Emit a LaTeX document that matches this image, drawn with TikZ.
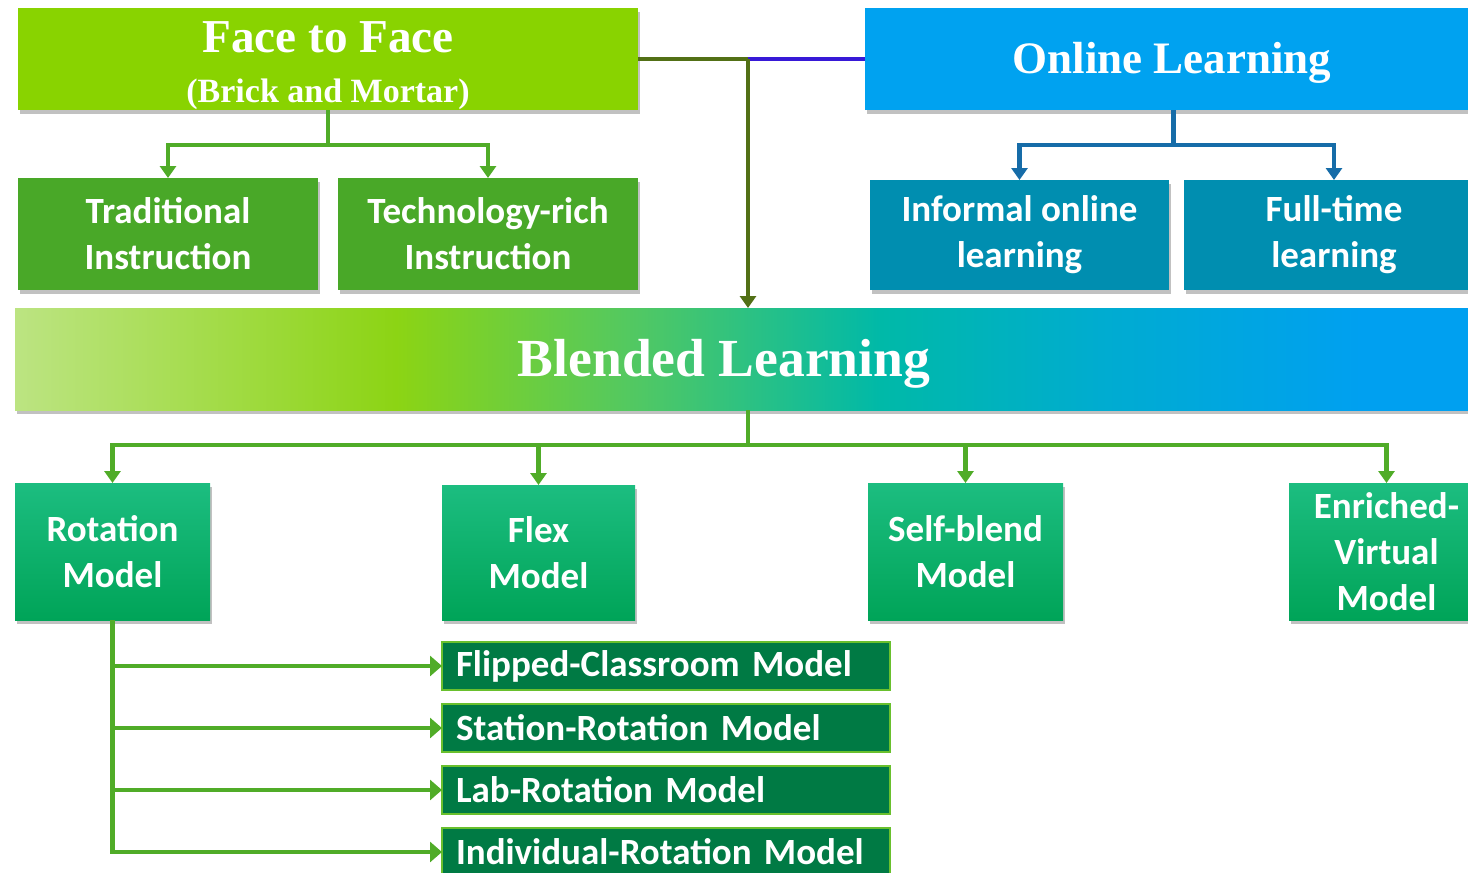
\documentclass[tikz,border=0pt]{standalone}
\usepackage{fontspec}
\setmainfont{Carlito}
\newfontfamily\ttlfont{Liberation Serif}
\usetikzlibrary{arrows.meta,shadows}
\definecolor{facegreen}{RGB}{137,211,0}
\definecolor{onlineblue}{RGB}{0,162,240}
\definecolor{ffsub}{RGB}{73,168,40}
\definecolor{onsub}{RGB}{0,142,176}
\definecolor{conngreen}{RGB}{80,172,40}
\definecolor{connolive}{RGB}{82,112,22}
\definecolor{connpurple}{RGB}{55,25,215}
\definecolor{connblue}{RGB}{22,108,168}
\definecolor{modtop}{RGB}{28,189,128}
\definecolor{modbot}{RGB}{0,164,88}
\definecolor{subfill}{RGB}{0,122,68}
\definecolor{subedge}{RGB}{105,192,45}
\definecolor{blA}{RGB}{188,228,130}
\definecolor{blB}{RGB}{140,212,20}
\definecolor{blC}{RGB}{80,200,100}
\definecolor{blD}{RGB}{0,185,168}
\definecolor{blE}{RGB}{0,172,208}
\definecolor{blF}{RGB}{0,160,240}
\pgfdeclarehorizontalshading{blendsh}{100bp}{color(0bp)=(blA); color(25bp)=(blA); color(38bp)=(blB); color(46.3bp)=(blC); color(54.5bp)=(blD); color(62bp)=(blE); color(70.9bp)=(blF); color(75bp)=(blF); color(100bp)=(blF)}
\newcommand\bodyfnt{\bfseries\fontsize{18.5}{23}\selectfont}
\newcommand\subfnt{\bfseries\fontsize{18.5}{21}\selectfont}
\newcommand\titlefnt{\ttlfont\bfseries\fontsize{22.5}{27}\selectfont}
\newcommand\pbox[6]{\node[#6, minimum width={(#4-#2)*0.5pt}, minimum height={(#5-#3)*0.5pt}] (#1) at ({(#2+#4)/2},{(#3+#5)/2})}
\tikzset{
  shad/.style={drop shadow={shadow xshift=0.8pt,shadow yshift=-1.8pt,opacity=0.35,fill=black!70}},
  bx/.style={inner sep=0pt, outer sep=0pt, text=white, align=center, shad},
  twoline/.style={bx, font=\bodyfnt},
  model/.style={twoline, top color=modtop, bottom color=modbot},
  subbox/.style={fill=subfill, draw=subedge, line width=1.2pt, text=white, font=\subfnt,
    text width=210pt, inner xsep=7pt, inner ysep=0pt, minimum height=24pt, align=left, anchor=west, outer sep=0pt},
  gconn/.style={draw=conngreen, line width=2.3pt},
  bconn/.style={draw=connblue, line width=2.3pt},
  oconn/.style={draw=connolive, line width=1.6pt},
  pconn/.style={draw=connpurple, line width=1.8pt},
  arr/.style={-{Triangle[length=6pt,width=8pt]}},
  arrbig/.style={-{Triangle[length=6pt,width=10pt]}},
  lbl/.style={text=white, inner sep=0pt}
}
\begin{document}
\begin{tikzpicture}[x=0.5pt,y=-0.5pt]
\useasboundingbox (0,0) rectangle (1468,873);
% top boxes
\pbox{face}{18}{8}{638}{110}{bx,fill=facegreen}{};
\node[lbl, font=\ttlfont\bfseries\fontsize{23.6}{28}\selectfont] (facet) at (328,37) {Face to Face};
\node[lbl, font=\ttlfont\bfseries\fontsize{17}{20}\selectfont] (facesub) at (328,94) {(Brick and Mortar)};
\pbox{online}{865}{8}{1482}{110}{bx,fill=onlineblue}{};
\node[lbl, font=\titlefnt] (onlinet) at (1172,63) {Online Learning};
\pbox{trad}{18}{178}{318}{290}{twoline,fill=ffsub}{Traditional\\Instruction};
\pbox{tech}{338}{178}{638}{290}{twoline,fill=ffsub}{Technology-rich\\Instruction};
\pbox{info}{870}{180}{1169}{290}{twoline,fill=onsub}{Informal online\\learning};
\pbox{full}{1184}{180}{1484}{290}{twoline,fill=onsub}{Full-time\\learning};
% blended bar
\pbox{blend}{15}{308}{1482}{410}{bx,shading=blendsh}{};
\node[lbl, font=\ttlfont\bfseries\fontsize{26.8}{32}\selectfont] (blendt) at (724,364) {Blended Learning};
% models
\pbox{rot}{15}{483}{210}{620}{model}{Rotation\\Model};
\pbox{flex}{442}{485}{635}{620}{model}{Flex\\Model};
\pbox{self}{868}{483}{1063}{620}{model}{Self-blend\\Model};
\pbox{enr}{1289}{483}{1484}{620}{model}{Enriched-\\Virtual\\Model};
% rotation sub-models
\node[subbox] (s1) at (442,666) {Flipped-Classroom Model};
\node[subbox] (s2) at (442,728) {Station-Rotation Model};
\node[subbox] (s3) at (442,790) {Lab-Rotation Model};
\node[subbox] (s4) at (442,852) {Individual-Rotation Model};
% connectors: face to face
\coordinate (fj) at (328,145);
\draw[gconn] (face.south) -- (fj);
\draw[gconn,arr] (fj) -| (trad.north);
\draw[gconn,arr] (fj) -| (tech.north);
% online
\coordinate (oj) at (1173.5,145);
\draw[bconn] (online.south) -- (oj);
\draw[bconn,arr] (oj) -| (info.north);
\draw[bconn,arr] (oj) -| (full.north);
% merge into blended
\coordinate (jn) at (748,59);
\draw[oconn] (face.east) -- (jn);
\draw[pconn] (jn) -- (online.west);
\draw[oconn,arr] (jn) -- (jn |- blend.north);
% blended to models
\coordinate (bj) at (748,445);
\draw[gconn] (bj |- blend.south) -- (bj);
\draw[gconn,arr] (bj) -| (rot.north);
\draw[gconn,arr] (bj) -| (flex.north);
\draw[gconn,arr] (bj) -| (self.north);
\draw[gconn,arr] (bj) -| (enr.north);
% rotation to sub-models
\draw[gconn,arrbig] (rot.south) |- (s1.west);
\draw[gconn,arrbig] (rot.south) |- (s2.west);
\draw[gconn,arrbig] (rot.south) |- (s3.west);
\draw[gconn,arrbig] (rot.south) |- (s4.west);
\end{tikzpicture}
\end{document}
